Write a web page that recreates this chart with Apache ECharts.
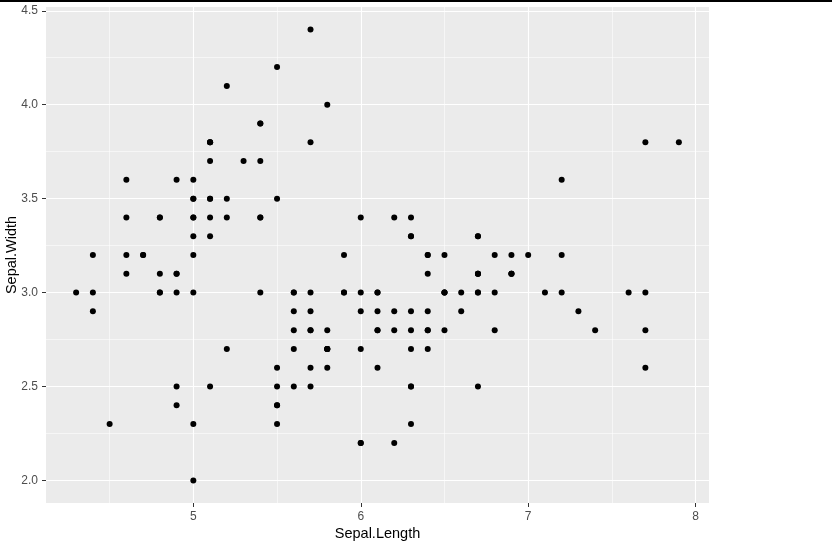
<!DOCTYPE html>
<html>
<head>
<meta charset="utf-8">
<script src="https://cdn.jsdelivr.net/npm/echarts@6/dist/echarts.min.js"></script>
<style>
  html, body { margin: 0; padding: 0; background: #fff; }
  #chart { width: 832px; height: 548px; }
</style>
</head>
<body>
<div id="chart"></div>
<script>
// iris: Sepal.Length vs Sepal.Width
const sepalLength = [
  5.1, 4.9, 4.7, 4.6, 5.0, 5.4, 4.6, 5.0, 4.4, 4.9, 5.4, 4.8, 4.8, 4.3, 5.8, 5.7, 5.4, 5.1, 5.7, 5.1,
  5.4, 5.1, 4.6, 5.1, 4.8, 5.0, 5.0, 5.2, 5.2, 4.7, 4.8, 5.4, 5.2, 5.5, 4.9, 5.0, 5.5, 4.9, 4.4, 5.1,
  5.0, 4.5, 4.4, 5.0, 5.1, 4.8, 5.1, 4.6, 5.3, 5.0, 7.0, 6.4, 6.9, 5.5, 6.5, 5.7, 6.3, 4.9, 6.6, 5.2,
  5.0, 5.9, 6.0, 6.1, 5.6, 6.7, 5.6, 5.8, 6.2, 5.6, 5.9, 6.1, 6.3, 6.1, 6.4, 6.6, 6.8, 6.7, 6.0, 5.7,
  5.5, 5.5, 5.8, 6.0, 5.4, 6.0, 6.7, 6.3, 5.6, 5.5, 5.5, 6.1, 5.8, 5.0, 5.6, 5.7, 5.7, 6.2, 5.1, 5.7,
  6.3, 5.8, 7.1, 6.3, 6.5, 7.6, 4.9, 7.3, 6.7, 7.2, 6.5, 6.4, 6.8, 5.7, 5.8, 6.4, 6.5, 7.7, 7.7, 6.0,
  6.9, 5.6, 7.7, 6.3, 6.7, 7.2, 6.2, 6.1, 6.4, 7.2, 7.4, 7.9, 6.4, 6.3, 6.1, 7.7, 6.3, 6.4, 6.0, 6.9,
  6.7, 6.9, 5.8, 6.8, 6.7, 6.7, 6.3, 6.5, 6.2, 5.9
]
const sepalWidth = [
  3.5, 3.0, 3.2, 3.1, 3.6, 3.9, 3.4, 3.4, 2.9, 3.1, 3.7, 3.4, 3.0, 3.0, 4.0, 4.4, 3.9, 3.5, 3.8, 3.8,
  3.4, 3.7, 3.6, 3.3, 3.4, 3.0, 3.4, 3.5, 3.4, 3.2, 3.1, 3.4, 4.1, 4.2, 3.1, 3.2, 3.5, 3.6, 3.0, 3.4,
  3.5, 2.3, 3.2, 3.5, 3.8, 3.0, 3.8, 3.2, 3.7, 3.3, 3.2, 3.2, 3.1, 2.3, 2.8, 2.8, 3.3, 2.4, 2.9, 2.7,
  2.0, 3.0, 2.2, 2.9, 2.9, 3.1, 3.0, 2.7, 2.2, 2.5, 3.2, 2.8, 2.5, 2.8, 2.9, 3.0, 2.8, 3.0, 2.9, 2.6,
  2.4, 2.4, 2.7, 2.7, 3.0, 3.4, 3.1, 2.3, 3.0, 2.5, 2.6, 3.0, 2.6, 2.3, 2.7, 3.0, 2.9, 2.9, 2.5, 2.8,
  3.3, 2.7, 3.0, 2.9, 3.0, 3.0, 2.5, 2.9, 2.5, 3.6, 3.2, 2.7, 3.0, 2.5, 2.8, 3.2, 3.0, 3.8, 2.6, 2.2,
  3.2, 2.8, 2.8, 2.7, 3.3, 3.2, 2.8, 3.0, 2.8, 3.0, 2.8, 3.8, 2.8, 2.8, 2.6, 3.0, 3.4, 3.1, 3.0, 3.1,
  3.1, 3.1, 2.7, 3.2, 3.3, 3.0, 2.5, 3.0, 3.4, 3.0
]
const xTicks = [5, 6, 7, 8]
const xMinor = [4.5, 5.5, 6.5, 7.5]
const yTicks = [2.0, 2.5, 3.0, 3.5, 4.0, 4.5]
const yMinor = [2.25, 2.75, 3.25, 3.75, 4.25]

const points = sepalLength.map((x, i) => [x, sepalWidth[i]])

const major = { color: '#fff', width: 1.1, type: 'solid' }
const minor = { color: '#fff', width: 0.55, type: 'solid' }
const gridLines = [
  ...xMinor.map(v => ({ xAxis: v, lineStyle: minor })),
  ...yMinor.map(v => ({ yAxis: v, lineStyle: minor })),
  ...xTicks.map(v => ({ xAxis: v, lineStyle: major })),
  ...yTicks.map(v => ({ yAxis: v, lineStyle: major }))
]

const labelStyle = { color: '#4D4D4D', fontSize: 12, fontFamily: 'Liberation Sans, Arial, sans-serif' }
const titleStyle = { color: '#000', fontSize: 14.5, fontFamily: 'Liberation Sans, Arial, sans-serif' }

const chart = echarts.init(document.getElementById('chart'), null, { renderer: 'canvas' })
chart.setOption({
  animation: false,
  graphic: [{
    type: 'rect',
    shape: { x: 0, y: 0, width: 832, height: 2 },
    style: { fill: '#000' }
  }],
  grid: {
    left: 46, right: 123, top: 7, bottom: 45,
    containLabel: false,
    outerBoundsMode: 'none',
    show: true, backgroundColor: '#EBEBEB', borderWidth: 0
  },
  xAxis: {
    type: 'value',
    min: 4.12, max: 8.08,
    name: 'Sepal.Length',
    nameLocation: 'middle',
    nameGap: 23,
    nameMoveOverlap: false,
    nameTextStyle: titleStyle,
    axisLine: { show: false },
    axisTick: { show: true, customValues: xTicks, length: 4, lineStyle: { color: '#333', width: 1 } },
    axisLabel: { customValues: xTicks, formatter: v => String(v), margin: 8, ...labelStyle },
    splitLine: { show: false }
  },
  yAxis: {
    type: 'value',
    min: 1.88, max: 4.52,
    name: 'Sepal.Width',
    nameLocation: 'middle',
    nameGap: 27,
    nameMoveOverlap: false,
    nameRotate: 90,
    nameTextStyle: titleStyle,
    axisLine: { show: false },
    axisTick: { show: true, customValues: yTicks, length: 4, lineStyle: { color: '#333', width: 1 } },
    axisLabel: { customValues: yTicks, formatter: v => v.toFixed(1), margin: 8, ...labelStyle },
    splitLine: { show: false }
  },
  series: [
    {
      type: 'scatter',
      data: [],
      z: 1,
      silent: true,
      markLine: {
        silent: true,
        z: 1,
        symbol: ['none', 'none'],
        label: { show: false },
        emphasis: { disabled: true },
        animation: false,
        data: gridLines
      }
    },
    {
      type: 'scatter',
      data: points,
      z: 10,
      symbol: 'circle',
      symbolSize: 6,
      itemStyle: { color: '#000', opacity: 1 }
    }
  ]
})
</script>
</body>
</html>
